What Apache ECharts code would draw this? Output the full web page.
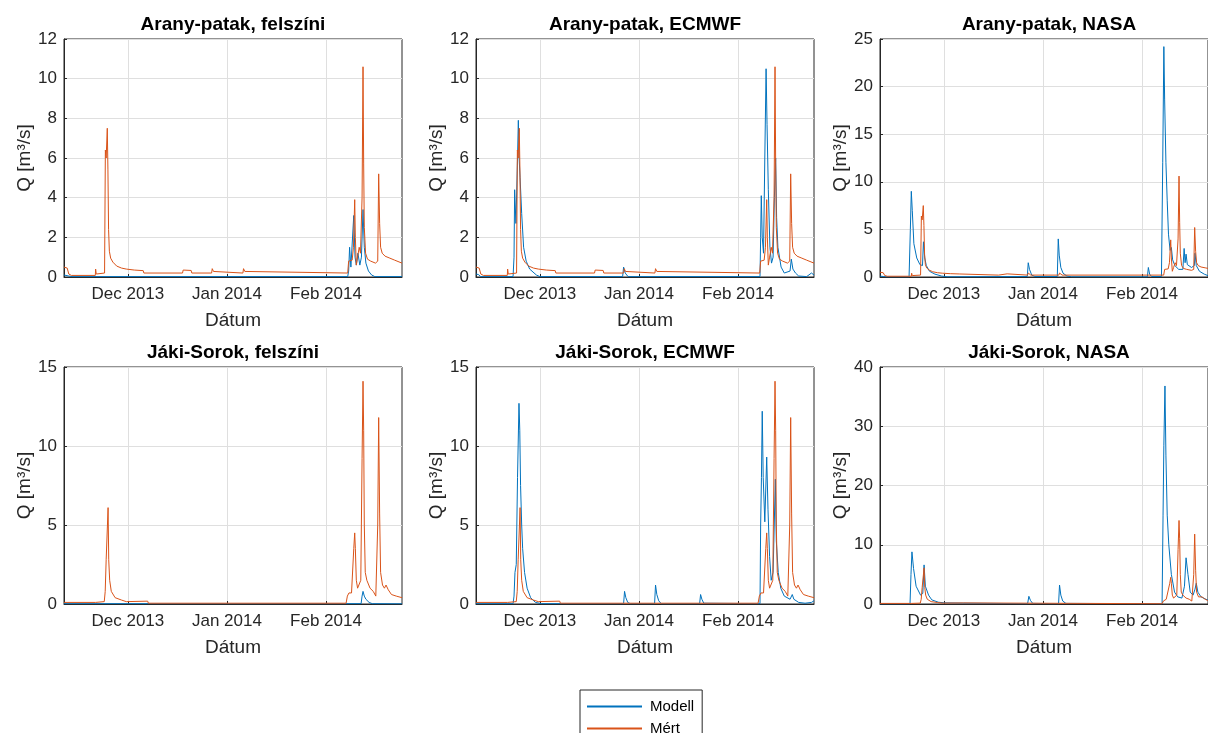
<!DOCTYPE html>
<html>
<head>
<meta charset="utf-8">
<title>Arany-patak / Jáki-Sorok vízhozam</title>
<script src="https://cdn.jsdelivr.net/npm/echarts@6/dist/echarts.min.js"></script>
<style>
  html, body { margin: 0; padding: 0; background: #fff; }
  #chart { width: 1208px; height: 733px; }
</style>
</head>
<body>
<div id="chart"></div>
<script>
// Time base: every series is stored as [days since 2013-11-11 00:00, Q in m3/s]
const DAY = 86400000;
const recordStart = new Date(2013, 10, 11).getTime();
const recordDays = 105.8;
const monthNames = ['Jan', 'Feb', 'Mar', 'Apr', 'May', 'Jun', 'Jul', 'Aug', 'Sep', 'Oct', 'Nov', 'Dec'];
const monthStarts = [new Date(2013, 11, 1), new Date(2014, 0, 1), new Date(2014, 1, 1)];
const seriesNames = ['Modell', 'Mért'];

// Measured discharge (Mért), shared by all three panels of a station
const aranyMert = [
  [0, 0.5], [1.0, 0.45], [1.5, 0.15], [2.3, 0.08], [9.8, 0.08], [9.9, 0.4], [10.1, 0.15],
  [12.7, 0.2], [12.95, 6.4], [13.2, 6.0], [13.55, 7.5], [13.75, 5.4], [13.95, 2.4], [14.2, 1.3],
  [14.6, 0.95], [15.3, 0.75], [16.5, 0.55], [18, 0.45], [19.5, 0.4], [22, 0.35], [24.8, 0.32],
  [25, 0.2], [37.1, 0.2], [37.3, 0.35], [39.8, 0.33], [40.0, 0.2], [46.2, 0.2], [46.4, 0.42],
  [46.8, 0.28], [47.2, 0.2], [56.0, 0.2], [56.2, 0.42], [56.6, 0.28], [57.0, 0.2],
  [88.8, 0.2], [89.1, 0.8], [89.6, 0.75], [90.2, 0.85], [90.6, 1.5], [91.0, 3.9], [91.2, 2.0],
  [91.5, 0.6], [91.9, 1.0], [92.4, 1.5], [92.8, 1.2], [93.3, 4.0], [93.6, 10.6], [93.8, 5.7],
  [94.0, 2.5], [94.4, 1.2], [95.0, 0.9], [96, 0.8], [97.5, 0.7], [98.2, 0.8], [98.5, 5.2],
  [98.8, 2.7], [99.1, 1.5], [99.6, 1.2], [100.5, 1.05], [102, 0.95], [103.5, 0.85], [105.8, 0.7]
];
const jakiMert = [
  [0, 0.1], [9.9, 0.1], [10.1, 0.2], [10.4, 0.12], [12.6, 0.15], [12.9, 0.8], [13.2, 2.8],
  [13.5, 2.7], [13.8, 6.1], [14.0, 2.8], [14.3, 1.5], [14.8, 0.8], [16.0, 0.4], [18.0, 0.25],
  [19.5, 0.15], [20.0, 0.18], [26.2, 0.18], [26.4, 0.05], [88.3, 0.05], [88.7, 0.5], [89.2, 0.7],
  [89.6, 0.8], [90.0, 0.7], [90.7, 3.5], [91.0, 4.5], [91.2, 3.5], [91.5, 1.5], [91.9, 1.0],
  [92.4, 1.0], [92.9, 1.5], [93.3, 9.2], [93.6, 14.1], [93.8, 11], [94.0, 5], [94.3, 2.0],
  [94.8, 1.5], [95.8, 1.0], [96.8, 0.8], [97.6, 0.5], [98.2, 5], [98.5, 11.8], [98.8, 5.7],
  [99.1, 2.0], [99.7, 1.2], [100.3, 1.0], [100.8, 1.2], [101.5, 0.9], [102.5, 0.6], [104, 0.5],
  [105.8, 0.4]
];

// Modelled discharge (Modell) for each precipitation source
const aranyFelszini = [
  [0, 0.1], [1.5, 0.05], [2.5, 0.02], [88.8, 0.02], [89.1, 0.3], [89.4, 1.5], [89.8, 0.5],
  [90.3, 0.6], [90.7, 3.1], [91.1, 1.0], [91.5, 0.6], [92.0, 1.2], [92.6, 0.6], [93.1, 1.0],
  [93.6, 3.4], [94.0, 1.5], [94.5, 0.7], [95.3, 0.3], [96.3, 0.1], [97.3, 0.02], [105.8, 0.02]
];
const aranyEcmwf = [
  [0, 0.15], [0.8, 0.12], [1.5, 0.02], [11.6, 0.02], [11.9, 1.0], [12.1, 4.4], [12.5, 2.7],
  [13.0, 6.0], [13.25, 7.9], [13.5, 6.0], [13.8, 5.0], [14.3, 3.2], [14.9, 1.5], [15.7, 0.8],
  [16.8, 0.4], [18.9, 0.1], [20, 0.02], [45.9, 0.02], [46.2, 0.5], [46.7, 0.2], [47.6, 0.02],
  [88.9, 0.02], [89.1, 2.0], [89.3, 4.1], [89.6, 2.0], [90.0, 1.2], [90.4, 6.0], [90.8, 10.5],
  [91.1, 7.7], [91.5, 4.4], [92.0, 1.5], [92.5, 0.7], [93.0, 1.0], [93.4, 4.0], [93.8, 6.0],
  [94.1, 3.0], [94.5, 1.5], [95.5, 0.5], [96.5, 0.2], [98.3, 0.3], [98.7, 0.9], [99.2, 0.4],
  [100, 0.2], [101, 0.05], [103.5, 0.02], [105, 0.2], [105.8, 0.1]
];
const aranyNasa = [
  [0, 0.1], [1, 0.05], [2, 0.02], [9.1, 0.02], [9.5, 5.0], [9.8, 9.0], [10.1, 7.0], [10.6, 3.5],
  [11.5, 2.0], [12.5, 1.3], [13.3, 1.2], [13.6, 3.7], [14.0, 2.0], [14.5, 1.2], [15.5, 0.6],
  [17.2, 0.3], [19.3, 0.1], [21, 0.02], [46.1, 0.05], [46.4, 1.5], [46.8, 0.8], [47.5, 0.2],
  [48.5, 0.05], [55.5, 0.05], [55.8, 4.0], [56.1, 2.3], [56.6, 1.0], [57.3, 0.4], [58.5, 0.1],
  [60, 0.02], [83.7, 0.02], [84.0, 1.0], [84.4, 0.3], [85, 0.05], [88.1, 0.05], [88.5, 12],
  [88.85, 24.2], [89.1, 18.6], [89.5, 12], [89.9, 8], [90.3, 4.5], [90.8, 2.8], [91.2, 3.1],
  [91.6, 1.8], [92.3, 1.2], [93.5, 0.8], [94.8, 0.8], [95.2, 3.0], [95.5, 1.5], [95.8, 2.4],
  [96.2, 1.3], [97.5, 1.0], [98.4, 1.2], [98.6, 2.5], [99.0, 1.2], [100, 0.6], [101.5, 0.3],
  [103, 0.1], [105.8, 0.03]
];
const jakiFelszini = [
  [0, 0.02], [93.0, 0.02], [93.3, 0.5], [93.6, 0.8], [94.0, 0.5], [94.5, 0.3], [95.5, 0.1],
  [96.5, 0.02], [105.8, 0.01]
];
const jakiEcmwf = [
  [0, 0.02], [11.6, 0.02], [11.9, 0.5], [12.2, 2.0], [12.6, 2.5], [13.0, 8], [13.45, 12.7],
  [13.7, 11], [13.95, 7.5], [14.3, 5], [14.6, 3.5], [15.2, 2.0], [16.0, 1.0], [17.1, 0.4],
  [18.6, 0.1], [20.5, 0.02], [46.2, 0.02], [46.5, 0.8], [46.9, 0.4], [47.5, 0.1], [48.3, 0.02],
  [55.9, 0.02], [56.2, 1.2], [56.6, 0.6], [57.2, 0.2], [58, 0.02], [70.0, 0.02], [70.3, 0.6],
  [70.7, 0.3], [71.3, 0.05], [88.9, 0.02], [89.1, 5], [89.35, 8], [89.6, 12.2], [89.9, 8],
  [90.4, 5.2], [91.0, 9.3], [91.4, 6], [91.9, 3], [92.4, 1.5], [93.0, 2], [93.7, 7.9], [94.0, 4],
  [94.6, 2], [95.4, 1.0], [96.5, 0.5], [98.3, 0.3], [99.0, 0.6], [99.5, 0.3], [101, 0.1],
  [103, 0.05], [105, 0.1], [105.5, 0.2], [105.8, 0.2]
];
const jakiNasa = [
  [0, 0.02], [9.4, 0.02], [9.7, 5], [10.0, 8.8], [10.5, 6], [11.3, 3], [12.7, 1.5], [13.4, 1.8],
  [13.8, 6.6], [14.2, 3], [15.2, 1.5], [16.2, 0.7], [18.3, 0.3], [20, 0.2], [25.8, 0.15],
  [26.2, 0.02], [46.2, 0.05], [46.6, 1.3], [47.1, 0.6], [47.8, 0.1], [55.9, 0.05], [56.2, 3.2],
  [56.6, 1.5], [57.2, 0.5], [58.2, 0.1], [88.3, 0.05], [88.6, 15], [88.85, 26.8], [89.2, 36.8],
  [89.5, 25], [89.9, 15], [90.4, 10], [91.2, 5], [92.2, 2], [93.2, 1.2], [94.5, 1.0], [95.3, 3],
  [95.8, 7.8], [96.4, 5], [97.1, 2], [98, 1.5], [98.6, 2.5], [99.0, 3.5], [99.5, 2], [100.5, 1.2],
  [102, 0.8], [103.5, 0.5], [105.8, 0.3]
];

// Panel titles and y-axis ranges
const panelTitles = [
  'Arany-patak, felszíni', 'Arany-patak, ECMWF', 'Arany-patak, NASA',
  'Jáki-Sorok, felszíni', 'Jáki-Sorok, ECMWF', 'Jáki-Sorok, NASA'
];
const yMax = [12, 12, 25, 15, 15, 40];
const yStep = [2, 2, 5, 5, 5, 10];
const modelSeries = [aranyFelszini, aranyEcmwf, aranyNasa, jakiFelszini, jakiEcmwf, jakiNasa];
const measuredSeries = [aranyMert, aranyMert, aranyMert, jakiMert, jakiMert, jakiMert];

// Subplot layout (pixels); the right column runs past the canvas edge
const CANVAS_W = 1208;
const colLeft = [64, 476, 880];
const rowTop = [39, 367];
const plotW = 338;
const plotH = [238, 237];

const AXIS = '#262626';
const GRID = '#dfdfdf';
const BLUE = '#0072BD';
const ORANGE = '#D95319';
const FONT = 'Liberation Sans, Arial, Helvetica, sans-serif';

// Month-start ticks expressed as day offsets on the x axis
const monthTickDays = monthStarts.map(d => Math.round((d.getTime() - recordStart) / DAY));
const fmtMonth = v => {
  const d = new Date(recordStart + v * DAY + DAY / 2);
  return monthNames[d.getMonth()] + ' ' + d.getFullYear();
};

const grids = [], xAxes = [], yAxes = [], titles = [], series = [];
for (let i = 0; i < 6; i++) {
  const r = Math.floor(i / 3), c = i % 3;
  // visible part of the axes box and the matching slice of the time range
  const w = Math.min(plotW, CANVAS_W - colLeft[c]);
  const xMax = recordDays * w / plotW;
  grids.push({
    left: colLeft[c], top: rowTop[r], width: w, height: plotH[r],
    show: true, borderColor: AXIS, borderWidth: 1, backgroundColor: '#fff'
  });
  titles.push({
    text: panelTitles[i], left: colLeft[c] + plotW / 2, top: rowTop[r] - 24,
    textAlign: 'center', padding: 0,
    textStyle: { fontFamily: FONT, fontSize: 19, fontWeight: 'bold', color: '#000' }
  });
  xAxes.push({
    gridIndex: i, type: 'value', min: 0, max: xMax,
    name: 'Dátum', nameLocation: 'middle', nameGap: 34,
    nameTextStyle: { fontFamily: FONT, fontSize: 19, color: AXIS },
    axisLine: { show: true, onZero: false, lineStyle: { color: AXIS, width: 1 } },
    axisTick: { show: true, inside: true, length: 3, customValues: monthTickDays, lineStyle: { color: AXIS } },
    axisLabel: {
      customValues: monthTickDays, formatter: fmtMonth, margin: 9,
      fontFamily: FONT, fontSize: 17, color: AXIS
    },
    splitLine: { show: true, lineStyle: { color: GRID, width: 1 } }
  });
  yAxes.push({
    gridIndex: i, type: 'value', min: 0, max: yMax[i], interval: yStep[i],
    name: 'Q [m³/s]', nameLocation: 'middle', nameGap: 30, nameRotate: 90,
    nameTextStyle: { fontFamily: FONT, fontSize: 19, color: AXIS },
    axisLine: { show: true, lineStyle: { color: AXIS, width: 1 } },
    axisTick: { show: true, inside: true, length: 3, lineStyle: { color: AXIS } },
    axisLabel: { margin: 7, fontFamily: FONT, fontSize: 17, color: AXIS },
    splitLine: { show: true, lineStyle: { color: GRID, width: 1 } }
  });
  series.push({
    name: seriesNames[0], type: 'line', xAxisIndex: i, yAxisIndex: i,
    data: modelSeries[i], symbol: 'none', showSymbol: false,
    lineStyle: { color: BLUE, width: 1 }, itemStyle: { color: BLUE }, z: 2
  });
  series.push({
    name: seriesNames[1], type: 'line', xAxisIndex: i, yAxisIndex: i,
    data: measuredSeries[i], symbol: 'none', showSymbol: false,
    lineStyle: { color: ORANGE, width: 1 }, itemStyle: { color: ORANGE }, z: 3
  });
}

const chart = echarts.init(document.getElementById('chart'), null, { renderer: 'canvas' });
chart.setOption({
  animation: false,
  backgroundColor: '#fff',
  title: titles,
  grid: grids,
  xAxis: xAxes,
  yAxis: yAxes,
  legend: {
    data: seriesNames, orient: 'vertical', left: 580, top: 690, height: 60,
    selectedMode: false, itemWidth: 55, itemHeight: 14, itemGap: 7,
    padding: [9, 8, 6, 6], borderColor: AXIS, borderWidth: 1, backgroundColor: '#fff',
    itemStyle: { opacity: 0 },
    textStyle: { fontFamily: FONT, fontSize: 15, color: '#000', padding: [0, 0, 0, 3] }
  },
  series: series
});
</script>
</body>
</html>
